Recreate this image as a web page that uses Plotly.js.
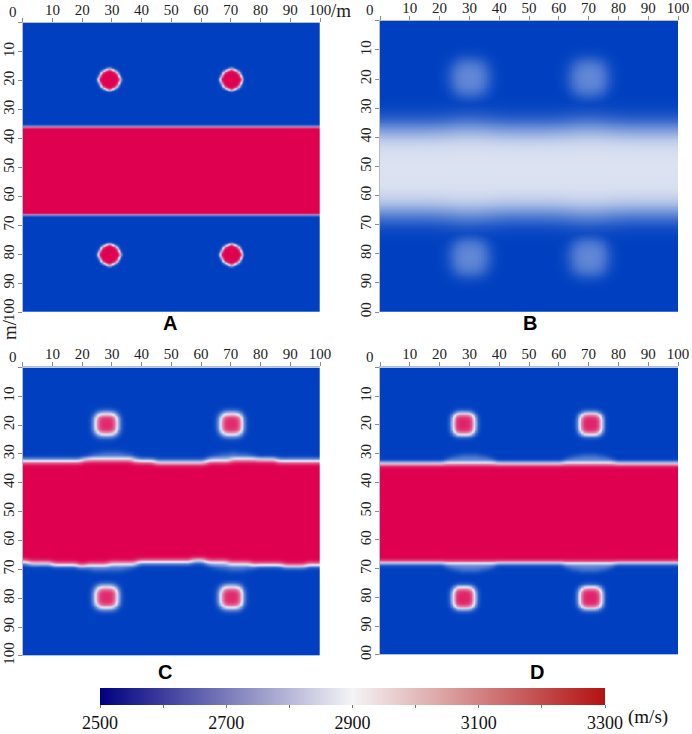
<!DOCTYPE html>
<html>
<head>
<meta charset="utf-8">
<script src="https://cdn.plot.ly/plotly-3.0.1.min.js"></script>
<style>
  html, body { margin: 0; padding: 0; background: #fff; }
  #chart { width: 692px; height: 734px; }
</style>
</head>
<body>
<div id="chart"></div>
<script>
// Velocity models (m/s); distances and depths in m
const panelNames = ['A', 'B', 'C', 'D'];
const boundaryX = [0, 10, 20, 30, 40, 50, 60, 70, 80, 90, 100];

const backgroundV = [2500, 2500, 2500, 2500];
const layerV = [3300, 2878, 3300, 3300];
const layerTop = [
  [36, 36, 36, 36, 36, 36, 36, 36, 36, 36, 36],
  [37, 37, 37, 37, 37, 37, 37, 37, 37, 37, 37],
  [32.3, 32.2, 32.0, 31.6, 32.2, 32.9, 32.6, 32.0, 31.8, 32.2, 32.3],
  [33.3, 33.3, 33.3, 33.3, 33.3, 33.3, 33.3, 33.3, 33.3, 33.3, 33.3]
];
const layerBottom = [
  [66, 66, 66, 66, 66, 66, 66, 66, 66, 66, 66],
  [65.5, 65.5, 65.5, 65.5, 65.5, 65.5, 65.5, 65.5, 65.5, 65.5, 65.5],
  [67.4, 68.0, 68.6, 67.9, 67.4, 67.2, 66.9, 67.6, 68.2, 68.6, 68.4],
  [67.7, 67.7, 67.7, 67.7, 67.7, 67.7, 67.7, 67.7, 67.7, 67.7, 67.7]
];

// four small anomalies per model
const anomalyX = [[29, 70, 29, 70], [30, 70, 30, 70], [28, 70, 28, 70], [28, 70.5, 28, 70.5]];
const anomalyY = [[19.5, 19.5, 80, 80], [19.5, 19.5, 81, 81], [19.5, 19.5, 79.5, 79.5], [19.5, 19.5, 80, 80]];
const anomalySize = [3.6, 6, 3.8, 3.8];      // radius (A) or half width (B-D)
const anomalyCorner = [3.6, 3, 1.8, 1.8];
const anomalyV = [3300, 2670, 3230, 3240];

// faint bulges on the layer edges under the anomalies
const lensX = [[], [30, 70], [30, 70], [30, 70]];
const lensV = [0, 2640, 2650, 2650];
const lensHalfWidth = [0, 8, 9, 9];
const lensHeight = [0, 3, 2.5, 3];

// smoothing of each inversion result (m)
const layerSigma = [0.35, 4.2, 0.9, 0.8];
const anomalySigma = [0.45, 2.3, 1.1, 1.0];

const barTicks = [2500, 2600, 2700, 2800, 2900, 3000, 3100, 3200, 3300];
const barLabels = ['2500', '', '2700', '', '2900', '', '3100', '', '3300'];
const axisTicks = [0, 10, 20, 30, 40, 50, 60, 70, 80, 90, 100];

const step = 0.5;
const grid = [];
for (let i = 0; i <= 100 / step; i++) grid.push(i * step);

function boundaryAt(samples, x) {
  const k = Math.min(boundaryX.length - 2, Math.floor(x / 10));
  const f = (x - boundaryX[k]) / (boundaryX[k + 1] - boundaryX[k]);
  return samples[k] + (samples[k + 1] - samples[k]) * f;
}

function blur(z, s) {
  if (s <= 0) return z;
  const r = Math.ceil(3 * s);
  const w = [];
  let sum = 0;
  for (let i = -r; i <= r; i++) {
    const g = Math.exp(-i * i / (2 * s * s));
    w.push(g);
    sum += g;
  }
  const n = z.length, m = z[0].length;
  const pass = (src, horiz) => src.map((row, i) => row.map((_, j) => {
    let acc = 0;
    for (let k = -r; k <= r; k++) {
      const ii = horiz ? i : Math.min(n - 1, Math.max(0, i + k));
      const jj = horiz ? Math.min(m - 1, Math.max(0, j + k)) : j;
      acc += src[ii][jj] * w[k + r];
    }
    return acc / sum;
  }));
  return pass(pass(z, true), false);
}

function buildModel(p) {
  const layer = grid.map(y => grid.map(x => {
    const top = boundaryAt(layerTop[p], x);
    const bot = boundaryAt(layerBottom[p], x);
    let v = (y >= top && y <= bot) ? layerV[p] : backgroundV[p];
    lensX[p].forEach(lx => {
      const ex = (x - lx) / lensHalfWidth[p];
      const up = (y - top) / lensHeight[p];
      const down = (y - bot) / lensHeight[p];
      if (ex * ex + up * up <= 1 || ex * ex + down * down <= 1) v = Math.max(v, lensV[p]);
    });
    return v;
  }));
  const spots = grid.map(y => grid.map(x => {
    let v = backgroundV[p];
    const s = anomalySize[p], c = anomalyCorner[p];
    for (let k = 0; k < anomalyX[p].length; k++) {
      const dx = Math.max(Math.abs(x - anomalyX[p][k]) - (s - c), 0);
      const dy = Math.max(Math.abs(y - anomalyY[p][k]) - (s - c), 0);
      if (Math.hypot(dx, dy) <= c) v = anomalyV[p];
    }
    return v;
  }));
  const a = blur(layer, layerSigma[p] / step);
  const b = blur(spots, anomalySigma[p] / step);
  return a.map((row, i) => row.map((v, j) => Math.max(v, b[i][j])));
}

// panel frames in pixels [left, right, top, bottom]
const W = 692, H = 734;
const frames = [
  [22.7, 320, 23, 316],
  [380, 678, 21, 316],
  [22.7, 320, 372, 664],
  [380, 678, 372, 663]
];

const modelScale = [[0, 'rgb(0,64,192)'], [0.5, 'rgb(232,235,244)'], [1, 'rgb(224,0,80)']];
const barScale = [[0, 'rgb(0,0,128)'], [0.5, 'rgb(244,244,246)'], [1, 'rgb(178,18,18)']];
const serif = '"Liberation Serif", "Times New Roman", Times, serif';

const traces = [];
const layout = {
  width: W, height: H,
  margin: { l: 0, r: 0, t: 0, b: 0 },
  paper_bgcolor: '#fff', plot_bgcolor: '#fff',
  showlegend: false,
  font: { family: serif },
  annotations: []
};

panelNames.forEach((name, p) => {
  const n = p + 1;
  const f = frames[p];
  traces.push({
    type: 'heatmap',
    x: grid, y: grid, z: buildModel(p),
    xaxis: 'x' + n, yaxis: 'y' + n,
    zmin: 2500, zmax: 3300,
    colorscale: modelScale,
    zsmooth: 'best',
    showscale: false,
    hoverinfo: 'skip'
  });
  const yText = axisTicks.map(t => t === 0 ? '' : (t === 100 && (p === 1 || p === 3) ? '00' : String(t)));
  layout['xaxis' + n] = {
    domain: [f[0] / W, f[1] / W],
    range: [0, 100], side: 'top', anchor: 'y' + n,
    tickvals: axisTicks, ticktext: axisTicks.map(t => t === 0 ? '' : String(t)),
    ticks: 'outside', ticklen: 4, tickcolor: '#8a8a8a',
    ticklabelstandoff: -3,
    showline: true, linecolor: '#b8bccc', linewidth: 1,
    showgrid: false, zeroline: false,
    tickfont: { family: serif, size: 15, color: '#222' }
  };
  layout['yaxis' + n] = {
    domain: [1 - f[3] / H, 1 - f[2] / H],
    range: [100, 0], anchor: 'x' + n,
    tickvals: axisTicks, ticktext: yText, tickangle: -90,
    ticks: 'outside', ticklen: 4, tickcolor: '#8a8a8a',
    ticklabelstandoff: -2,
    showline: true, linecolor: '#b8bccc', linewidth: 1,
    showgrid: false, zeroline: false,
    tickfont: { family: serif, size: 15, color: '#222' }
  };
  // origin label
  layout.annotations.push({
    xref: 'paper', yref: 'paper', x: (f[0] - 10) / W, y: 1 - (f[2] - 11) / H,
    text: '0', showarrow: false, xanchor: 'center', yanchor: 'middle',
    font: { family: serif, size: 15, color: '#222' }
  });
});

const labelPos = [[170, 327], [530, 327], [165, 680], [537, 680]];
panelNames.forEach((name, p) => {
  layout.annotations.push({
    xref: 'paper', yref: 'paper', x: labelPos[p][0] / W, y: 1 - labelPos[p][1] / H,
    text: '<b>' + name + '</b>', showarrow: false, xanchor: 'center', yanchor: 'middle',
    font: { family: '"Liberation Sans", Arial, sans-serif', size: 20, color: '#000' }
  });
});

// units
layout.annotations.push({
  xref: 'paper', yref: 'paper', x: 329 / W, y: 1 - 11 / H,
  text: '/m', showarrow: false, xanchor: 'left', yanchor: 'middle',
  font: { family: serif, size: 19, color: '#222' }
});
layout.annotations.push({
  xref: 'paper', yref: 'paper', x: 10 / W, y: 1 - 334 / H,
  text: 'm/', showarrow: false, textangle: -90, xanchor: 'center', yanchor: 'middle',
  font: { family: serif, size: 19, color: '#222' }
});
layout.annotations.push({
  xref: 'paper', yref: 'paper', x: 626 / W, y: 1 - 726 / H,
  text: '(m/s)', showarrow: false, xanchor: 'left', yanchor: 'middle',
  font: { family: serif, size: 19, color: '#111' }
});

// shared colour bar
traces.push({
  type: 'scatter', mode: 'markers',
  x: [0, 1], y: [0, 0], xaxis: 'x5', yaxis: 'y5',
  hoverinfo: 'skip',
  marker: {
    color: [2500, 3300], cmin: 2500, cmax: 3300, colorscale: barScale,
    opacity: 0, size: 1, showscale: true,
    colorbar: {
      orientation: 'h',
      x: 352.5 / W, xanchor: 'center',
      y: 1 - 697 / H, yanchor: 'top',
      len: 505, lenmode: 'pixels',
      thickness: 17, thicknessmode: 'pixels',
      xpad: 0, ypad: 0, outlinewidth: 0,
      tickvals: barTicks, ticktext: barLabels,
      ticks: 'outside', ticklen: 3, tickcolor: '#777',
      tickfont: { family: serif, size: 18, color: '#111' }
    }
  }
});
layout.xaxis5 = { domain: [0, 0.001], visible: false, anchor: 'y5' };
layout.yaxis5 = { domain: [0, 0.001], visible: false, anchor: 'x5' };

Plotly.newPlot('chart', traces, layout, { displayModeBar: false, staticPlot: true });
</script>
</body>
</html>
